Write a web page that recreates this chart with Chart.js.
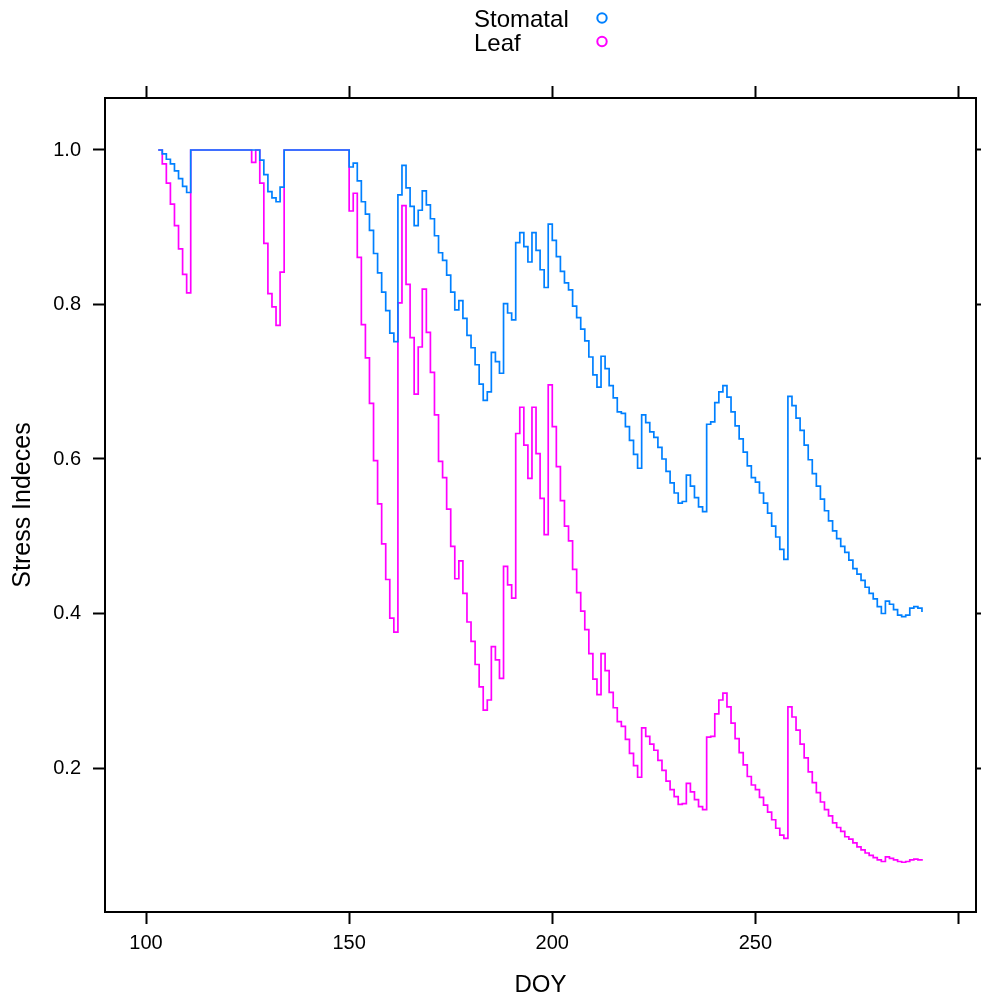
<!DOCTYPE html>
<html>
<head>
<meta charset="utf-8">
<script src="https://cdn.jsdelivr.net/npm/chart.js@4.4.1/dist/chart.umd.min.js"></script>
<style>
  html, body { margin: 0; padding: 0; background: #fff; }
  #wrap { width: 981px; height: 1000px; }
</style>
</head>
<body>
<div id="wrap"><canvas id="chart" width="981" height="1000"></canvas></div>
<script>
// day of year, one value per day
const firstDay = 103;
const lastDay = 291;
const doy = Array.from({ length: lastDay - firstDay + 1 }, (_, i) => firstDay + i);

const stomatal = [
  1.0, 0.995, 0.988, 0.982, 0.973, 0.963, 0.953, 0.945,
  1, 1, 1, 1, 1, 1, 1, 1, 1, 1, 1, 1, 1, 1, 1, 1, 1,
  0.987, 0.968, 0.946, 0.938, 0.933, 0.952,
  1, 1, 1, 1, 1, 1, 1, 1, 1, 1, 1, 1, 1, 1, 1, 1,
  0.978, 0.983, 0.960, 0.933, 0.917, 0.896, 0.866, 0.841, 0.816, 0.792, 0.763, 0.752, 0.942, 0.980,
  0.951, 0.927, 0.902, 0.922, 0.947, 0.929, 0.911, 0.889, 0.867, 0.857, 0.838, 0.816, 0.793, 0.805,
  0.782, 0.760, 0.744, 0.722, 0.697, 0.676, 0.687,
  0.738, 0.726, 0.711, 0.801, 0.789, 0.780, 0.880, 0.893, 0.875, 0.855, 0.893, 0.870, 0.845, 0.822,
  0.904, 0.883, 0.862,
  0.843, 0.828, 0.819, 0.798, 0.783, 0.768, 0.753, 0.732, 0.709, 0.693, 0.733, 0.717, 0.695, 0.679,
  0.661, 0.659, 0.642, 0.624, 0.606, 0.588,
  0.657, 0.647, 0.635, 0.628, 0.615, 0.600, 0.584, 0.569, 0.556, 0.543, 0.545, 0.579, 0.565, 0.550,
  0.538, 0.532,
  0.645, 0.648, 0.673, 0.687, 0.695, 0.680, 0.661, 0.643, 0.626, 0.609, 0.591, 0.576, 0.570, 0.556,
  0.543, 0.530, 0.513, 0.499, 0.483, 0.470,
  0.681, 0.669, 0.653, 0.637, 0.618, 0.599, 0.581, 0.565, 0.548, 0.533, 0.520, 0.507, 0.497,
  0.487, 0.479, 0.469, 0.458, 0.451, 0.443, 0.434, 0.426, 0.419, 0.409, 0.400, 0.416, 0.412, 0.405,
  0.398, 0.396, 0.398, 0.407, 0.409, 0.407, 0.402
];

const leaf = [
  1.0, 0.982, 0.957, 0.930, 0.902, 0.872, 0.839, 0.815,
  1, 1, 1, 1, 1, 1, 1, 1, 1, 1, 1, 1, 1, 1, 1, 0.984, 1,
  0.957, 0.879, 0.814, 0.797, 0.773, 0.842,
  1, 1, 1, 1, 1, 1, 1, 1, 1, 1, 1, 1, 1, 1, 1, 1,
  0.921, 0.944, 0.861, 0.774, 0.731, 0.672, 0.598, 0.542, 0.490, 0.444, 0.394, 0.376, 0.802, 0.928,
  0.826, 0.757, 0.684, 0.745, 0.820, 0.764, 0.712, 0.657, 0.597, 0.576, 0.535, 0.487, 0.445, 0.468,
  0.426, 0.389, 0.364, 0.334, 0.305, 0.275, 0.288,
  0.357, 0.340, 0.316, 0.461, 0.437, 0.420, 0.633, 0.667, 0.618, 0.575, 0.667, 0.607, 0.549, 0.502,
  0.696, 0.642, 0.590,
  0.546, 0.513, 0.494, 0.457, 0.427, 0.403, 0.379, 0.348, 0.315, 0.295, 0.348, 0.326, 0.298, 0.278,
  0.260, 0.254, 0.237, 0.219, 0.203, 0.188,
  0.252, 0.241, 0.231, 0.223, 0.210, 0.197, 0.183, 0.172, 0.163, 0.153, 0.154, 0.180, 0.169, 0.159,
  0.150, 0.146,
  0.240, 0.241, 0.270, 0.288, 0.297, 0.279, 0.258, 0.238, 0.220, 0.204, 0.189, 0.178, 0.172, 0.162,
  0.152, 0.143, 0.133, 0.122, 0.113, 0.109,
  0.279, 0.266, 0.249, 0.231, 0.213, 0.195, 0.181, 0.168, 0.156, 0.146, 0.138, 0.129, 0.123,
  0.118, 0.111, 0.108, 0.103, 0.098, 0.094, 0.090, 0.087, 0.084, 0.081, 0.079, 0.085, 0.083, 0.081,
  0.079, 0.078, 0.079, 0.081, 0.082, 0.081, 0.080
];

const seriesNames = ["Stomatal", "Leaf"];
const seriesColors = ["#0080ff", "#ff00ff"];
const xTicks = [100, 150, 200, 250];
const yTicks = [0.2, 0.4, 0.6, 0.8, 1.0];

const FONT = "'Liberation Sans', Arial, Helvetica, sans-serif";

const toPoints = (vals) => vals.map((v, i) => ({ x: doy[i], y: v }));

// lattice style key: label on the left, open circle on the right
const keyPlugin = {
  id: "latticeKey",
  afterDraw(chart) {
    const ctx = chart.ctx;
    ctx.save();
    ctx.font = "24px " + FONT;
    ctx.textAlign = "left";
    ctx.textBaseline = "alphabetic";
    seriesNames.forEach((name, i) => {
      const base = 27 + i * 23.5;
      ctx.fillStyle = "#000";
      ctx.fillText(name, 474, base);
      ctx.beginPath();
      ctx.arc(602, base - 9, 4.7, 0, Math.PI * 2);
      ctx.strokeStyle = seriesColors[i];
      ctx.lineWidth = 2;
      ctx.stroke();
    });
    ctx.restore();
  },
};

const gridOpts = {
  display: true,
  drawOnChartArea: false,
  drawTicks: true,
  tickLength: 12,
  tickWidth: 2,
  tickColor: "#000",
};
const borderOpts = { display: true, color: "#000", width: 2 };

const xRange = { min: 89.9, max: 304.3 };
const yRange = { min: 0.0136, max: 1.0673 };

new Chart(document.getElementById("chart"), {
  type: "line",
  data: {
    datasets: seriesNames.map((name, i) => ({
      label: name,
      data: toPoints(i === 0 ? stomatal : leaf),
      borderColor: seriesColors[i],
      borderWidth: 1.7,
      pointRadius: 0,
      fill: false,
      stepped: "before",
      tension: 0,
    })),
  },
  options: {
    responsive: false,
    animation: false,
    events: [],
    layout: { padding: 0 },
    plugins: { legend: { display: false }, tooltip: { enabled: false }, title: { display: false } },
    scales: {
      x: {
        type: "linear",
        position: "bottom",
        ...xRange,
        grid: gridOpts,
        border: borderOpts,
        ticks: {
          stepSize: 50,
          includeBounds: false,
          autoSkip: false,
          maxRotation: 0,
          padding: 7,
          color: "#000",
          font: { family: FONT, size: 20 },
          callback: (v) => (xTicks.includes(v) ? String(v) : ""),
        },
        title: {
          display: true,
          text: "DOY",
          color: "#000",
          font: { family: FONT, size: 24 },
          padding: { top: 0, bottom: 0 },
        },
        afterFit: (s) => { s.height = 88; },
      },
      x2: {
        type: "linear",
        position: "top",
        ...xRange,
        grid: gridOpts,
        border: borderOpts,
        ticks: { display: false, stepSize: 50, includeBounds: false, autoSkip: false },
        afterFit: (s) => { s.height = 98; },
      },
      y: {
        type: "linear",
        position: "left",
        ...yRange,
        grid: gridOpts,
        border: borderOpts,
        ticks: {
          stepSize: 0.2,
          includeBounds: false,
          autoSkip: false,
          padding: 12,
          color: "#000",
          font: { family: FONT, size: 20 },
          callback: (v) => (yTicks.some((t) => Math.abs(t - v) < 1e-6) ? v.toFixed(1) : ""),
        },
        title: {
          display: true,
          text: "Stress Indeces",
          color: "#000",
          font: { family: FONT, size: 25 },
          padding: { top: 8, bottom: 0 },
        },
        afterFit: (s) => { s.width = 105; },
      },
      y2: {
        type: "linear",
        position: "right",
        ...yRange,
        grid: gridOpts,
        border: borderOpts,
        ticks: { display: false, stepSize: 0.2, includeBounds: false, autoSkip: false },
        afterFit: (s) => { s.width = 5; },
      },
    },
  },
  plugins: [keyPlugin],
});
</script>
</body>
</html>
